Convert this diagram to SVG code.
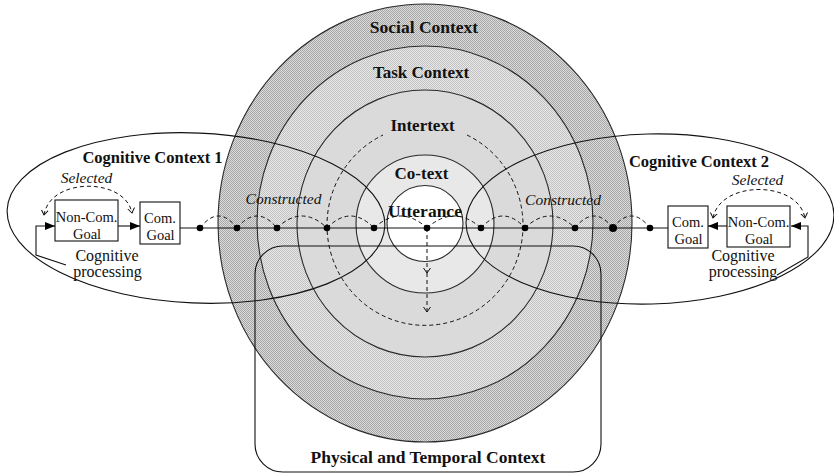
<svg xmlns="http://www.w3.org/2000/svg" width="834" height="475" viewBox="0 0 834 475">
<style>
.ring{stroke:#2a2a2a;stroke-width:1.1}
.ln{fill:none;stroke:#111;stroke-width:1.1}
.dash{fill:none;stroke:#111;stroke-width:1;stroke-dasharray:4 3}
.box{fill:#fff;stroke:#111;stroke-width:1.1}
.dot{fill:#000}
.lbl{font-family:"Liberation Serif","Times New Roman",serif;font-weight:bold;fill:#111;text-anchor:middle}
.it{font-family:"Liberation Serif","Times New Roman",serif;font-style:italic;font-size:15.5px;fill:#111;text-anchor:middle}
.bt{font-family:"Liberation Serif","Times New Roman",serif;font-size:14.5px;fill:#111;text-anchor:middle}
.ct{font-family:"Liberation Serif","Times New Roman",serif;font-size:16px;fill:#111;text-anchor:middle}
</style>
<defs>
<pattern id="hatchDark" patternUnits="userSpaceOnUse" x="0" y="0" width="2" height="2">
<rect width="2" height="2" fill="#dcdcdc"/>
<rect width="1" height="1" fill="#a6a6a6"/>
<rect x="1" y="1" width="1" height="1" fill="#a6a6a6"/>
</pattern>
<pattern id="hatchMid" patternUnits="userSpaceOnUse" x="0" y="0" width="2" height="2">
<rect width="2" height="2" fill="#e8e8e8"/>
<rect width="1" height="1" fill="#c2c2c2"/>
<rect x="1" y="1" width="1" height="1" fill="#c2c2c2"/>
</pattern>
<marker id="fa" markerUnits="userSpaceOnUse" markerWidth="10" markerHeight="8" refX="10" refY="4" orient="auto">
<path d="M0,0 L10,4 L0,8 z" fill="#000"/>
</marker>
<marker id="oa" markerUnits="userSpaceOnUse" markerWidth="8" markerHeight="9" refX="5" refY="4" orient="auto-start-reverse">
<path d="M0,0.5 L5,4 L0,7.5" fill="none" stroke="#111" stroke-width="1"/>
</marker>
</defs>

<g id="social-context">
<ellipse class="ring" cx="425" cy="223" rx="207" ry="219" fill="url(#hatchDark)"/>
</g>
<g id="task-context">
<ellipse class="ring" cx="425" cy="222.5" rx="168" ry="176.5" fill="url(#hatchMid)"/>
</g>
<g id="intertext">
<ellipse class="ring" cx="425" cy="223.5" rx="128" ry="133.5" fill="#dadada"/>
<path class="dash" d="M467,135 A98,100 0 1 1 383,135"/>
</g>
<g id="co-text">
<ellipse class="ring" cx="425" cy="224" rx="69" ry="69" fill="#e8e8e8"/>
</g>
<g id="utterance">
<ellipse class="ring" cx="425" cy="223.5" rx="38" ry="38" fill="#fff"/>
</g>

<g id="cognitive-context-1">
<ellipse class="ln" cx="196" cy="218" rx="189" ry="85" transform="rotate(2.5 196 218)"/>
</g>
<g id="cognitive-context-2">
<ellipse class="ln" cx="650" cy="219" rx="184" ry="85" transform="rotate(-1.5 650 219)"/>
</g>
<g id="physical-temporal-context">
<rect class="ln" x="255" y="246" width="346" height="226" rx="28" ry="28"/>
</g>

<g id="connectors">
<line class="ln" x1="180" y1="228" x2="668" y2="228"/>
<line class="ln" x1="118" y1="226" x2="140" y2="226" marker-end="url(#fa)"/>
<polyline class="ln" points="66,265 36,255 36,226 55,226" marker-end="url(#fa)"/>
<line class="ln" x1="727" y1="226" x2="708" y2="226" marker-end="url(#fa)"/>
<polyline class="ln" points="777,275 808,257 808,226 791,226" marker-end="url(#fa)"/>
<path class="dash" d="M44,215 C50,177 125,177 132,213" marker-start="url(#oa)" marker-end="url(#oa)"/>
<path class="dash" d="M713,218 C720,180 798,180 805,218" marker-start="url(#oa)" marker-end="url(#oa)"/>
<path class="dash" d="M200,228 Q218.5,204 237,228 M237,228 Q257,204 277,228 M277,228 Q302,204 327,228 M327,228 Q350.5,204 374,228 M374,228 Q400.5,204 427,228 M427,228 Q454,204 481,228 M481,228 Q503,204 525,228 M525,228 Q550,204 575,228 M575,228 Q594,204 613,228 M613,228 Q631.5,204 650,228"/>
<line class="dash" x1="427" y1="228" x2="427" y2="273" marker-end="url(#oa)"/>
<line class="dash" x1="427" y1="273" x2="427" y2="312" marker-end="url(#oa)"/>
<circle class="dot" cx="200" cy="228" r="3.3"/>
<circle class="dot" cx="237" cy="228" r="3.3"/>
<circle class="dot" cx="277" cy="228" r="3.3"/>
<circle class="dot" cx="327" cy="228" r="3.3"/>
<circle class="dot" cx="374" cy="228" r="3.3"/>
<circle class="dot" cx="427" cy="228" r="3.3"/>
<circle class="dot" cx="481" cy="228" r="3.3"/>
<circle class="dot" cx="525" cy="228" r="3.3"/>
<circle class="dot" cx="575" cy="228" r="3.3"/>
<circle class="dot" cx="613" cy="228" r="4"/>
<circle class="dot" cx="650" cy="228" r="3.3"/>
</g>

<g id="non-com-goal-1">
<rect class="box" x="55" y="200" width="63" height="41"/>
<text class="bt" x="86.5" y="221.5">Non-Com.</text>
<text class="bt" x="87" y="239">Goal</text>
</g>
<g id="com-goal-1">
<rect class="box" x="140" y="202" width="40" height="42"/>
<text class="bt" x="160" y="223">Com.</text>
<text class="bt" x="160.5" y="240">Goal</text>
</g>
<g id="com-goal-2">
<rect class="box" x="668" y="206" width="40" height="42"/>
<text class="bt" x="688" y="227">Com.</text>
<text class="bt" x="688.5" y="244">Goal</text>
</g>
<g id="non-com-goal-2">
<rect class="box" x="727" y="206" width="63" height="41"/>
<text class="bt" x="758.5" y="227">Non-Com.</text>
<text class="bt" x="759" y="244">Goal</text>
</g>

<g id="labels">
<text class="lbl" x="424" y="33" font-size="17.5">Social Context</text>
<text class="lbl" x="421" y="78" font-size="17">Task Context</text>
<text class="lbl" x="422.5" y="131" font-size="17">Intertext</text>
<text class="lbl" x="421.5" y="179" font-size="17">Co-text</text>
<text class="lbl" x="425" y="217" font-size="17.5">Utterance</text>
<text class="lbl" x="152.5" y="163" font-size="16.5">Cognitive Context 1</text>
<text class="lbl" x="699" y="167" font-size="16.5">Cognitive Context 2</text>
<text class="it" x="86.5" y="183">Selected</text>
<text class="it" x="757.5" y="185">Selected</text>
<text class="it" x="283.5" y="204">Constructed</text>
<text class="it" x="563" y="205">Constructed</text>
<text class="ct" x="107" y="260.5">Cognitive</text>
<text class="ct" x="107.5" y="277">processing</text>
<text class="ct" x="743" y="260.5">Cognitive</text>
<text class="ct" x="743" y="277">processing</text>
<text class="lbl" x="428" y="463" font-size="17.5">Physical and Temporal Context</text>
</g>
</svg>
